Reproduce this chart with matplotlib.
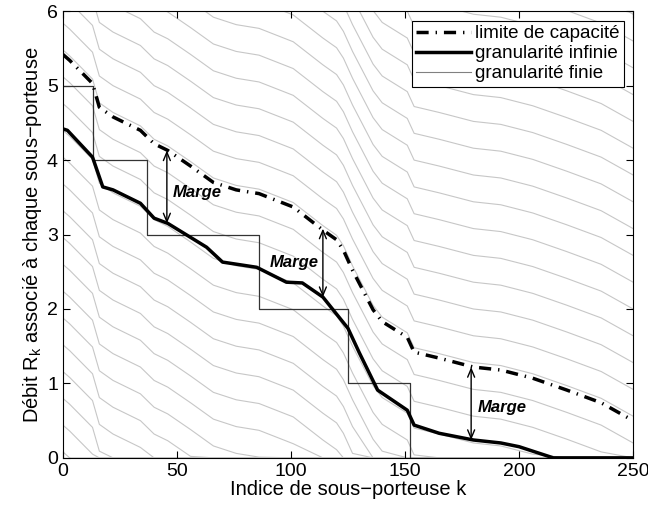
import numpy as np
import matplotlib
matplotlib.use("Agg")
import matplotlib.pyplot as plt

plt.rcParams['font.family'] = ['Liberation Sans', 'DejaVu Sans']
plt.rcParams['mathtext.fontset'] = 'custom'
plt.rcParams['mathtext.rm'] = 'Liberation Sans'

# limite de capacite (dash-dot)
cap_x = [0, 3, 13, 16, 22, 34, 40, 46, 56, 66, 76, 86, 101, 114, 120, 123, 127,
         136, 140, 151, 154, 165, 180, 192, 206, 221, 236, 250]
cap_y = [5.42, 5.34, 5.03, 4.71, 4.58, 4.40, 4.22, 4.13, 3.92, 3.70, 3.60, 3.55,
         3.37, 3.06, 2.93, 2.79, 2.52, 1.99, 1.83, 1.62, 1.42, 1.34, 1.22, 1.18,
         1.07, 0.91, 0.74, 0.50]

# granularite infinie (thick solid)
inf_x = [0, 2, 13, 17.5, 22, 34, 40, 46, 63, 70, 85, 98, 105, 114, 125, 130,
         138, 151, 154, 165, 180, 192, 200, 215, 250]
inf_y = [4.42, 4.40, 4.04, 3.64, 3.60, 3.42, 3.22, 3.15, 2.83, 2.63, 2.56, 2.36,
         2.35, 2.16, 1.74, 1.41, 0.91, 0.64, 0.44, 0.33, 0.24, 0.20, 0.15, 0.0, 0.0]

# granularite finie: allocation en escalier
stair_x = [0, 13, 37, 86, 125, 152, 250]
stair_y = [5, 4, 3, 2, 1, 0, 0]

# decalages des courbes grises
gray_offsets = [-5.34, -4.98, -4.62, -4.26, -3.90, -3.54, -3.18, -2.82, -2.46,
                -2.10, -1.74, -1.38, -1.02, -0.66, -0.30, 0.06, 0.42, 0.78,
                1.14, 1.50, 1.86, 2.22, 2.58, 2.94, 3.30, 3.66, 4.02, 4.38,
                4.74, 5.10, 5.46]

# fleches "Marge": (x, bas, haut) et position du texte
marge_arrows = [(45.6, 3.15, 4.13), (114, 2.16, 3.08), (179, 0.24, 1.22)]
marge_text = [(48, 3.56), (90.5, 2.63), (182, 0.67)]

fig = plt.figure(figsize=(6.48, 5.11), dpi=100)
ax = fig.add_axes([0.097, 0.104, 0.88, 0.874])

cap_arr = np.array(cap_y)
for off in gray_offsets:
    ax.plot(cap_x, np.maximum(cap_arr + off, 0), color='0.78', lw=0.8, zorder=1)

ax.plot(stair_x, stair_y, drawstyle='steps-post', color='0.2', lw=0.9, zorder=2)

ax.plot(cap_x, cap_y, color='k', lw=2.5, dashes=(3.5, 2, 0.4, 2), zorder=3)
ax.plot(inf_x, inf_y, color='k', lw=2.5, zorder=3)

for (xa, y0, y1) in marge_arrows:
    ax.annotate('', xy=(xa, y1), xytext=(xa, y0),
                arrowprops=dict(arrowstyle='<->,head_length=0.6,head_width=0.25',
                                color='k', lw=1, shrinkA=0, shrinkB=0), zorder=4)
for (xt, yt) in marge_text:
    ax.text(xt, yt, 'Marge', fontsize=12, fontweight='bold', fontstyle='italic',
            va='center', ha='left', zorder=4)

# legend handles
h1, = ax.plot([], [], color='k', lw=2.5, dashes=(3.5, 2, 0.4, 2))
h2, = ax.plot([], [], color='k', lw=2.5)
h3, = ax.plot([], [], color='0.5', lw=0.8)
leg = ax.legend([h1, h2, h3], ['limite de capacité', 'granularité infinie', 'granularité finie'],
                loc='upper right', fontsize=13.5, fancybox=False, framealpha=1,
                edgecolor='k', handlelength=2.9, borderaxespad=0.5,
                labelspacing=0.15, handletextpad=0.2, borderpad=0.25)
leg.get_frame().set_linewidth(0.8)

ax.set_xlim(0, 250)
ax.set_ylim(0, 6)
ax.set_xticks([0, 50, 100, 150, 200, 250])
ax.set_yticks([0, 1, 2, 3, 4, 5, 6])
ax.tick_params(direction='in', top=True, right=True, labelsize=14, length=5)
ax.set_xlabel('Indice de sous\u2212porteuse k', fontsize=14.5, labelpad=0)
ax.set_ylabel('Débit R$_\\mathregular{k}$ associé à chaque sous\u2212porteuse', fontsize=14.5, labelpad=2)

fig.savefig('out.png', dpi=100)
